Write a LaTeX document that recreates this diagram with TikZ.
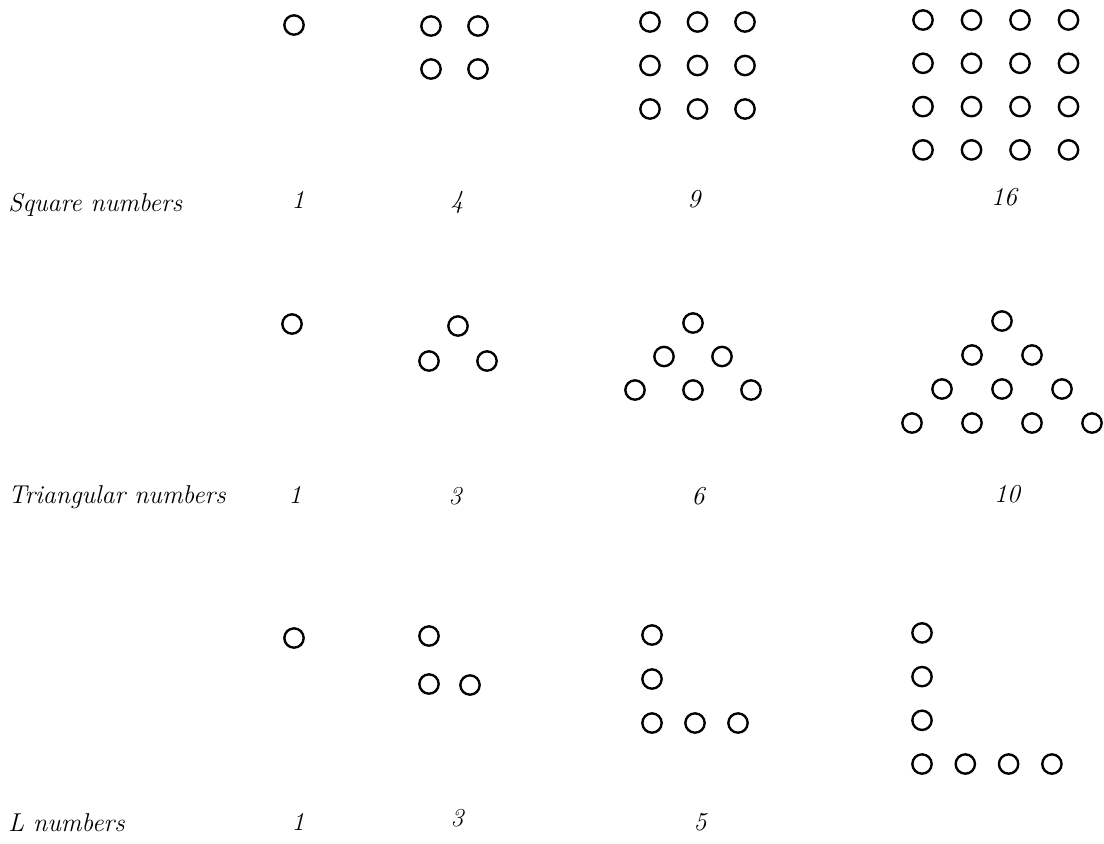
\documentclass[tikz,border=0pt]{standalone}
\usepackage{tikz}

\begin{document}
\begin{tikzpicture}[x=0.02cm, y=-0.02cm,
    dot/.style={draw, circle, line width=1.35pt, minimum size=11pt, inner sep=0pt},
    rowname/.style={anchor=base west, inner sep=0pt, font=\fontsize{14.7}{17}\selectfont\itshape},
    count/.style={anchor=base, inner sep=0pt, font=\fontsize{14.7}{17}\selectfont\itshape}]
  \useasboundingbox (0,0) rectangle (1104,843);

  \node[dot] (sq1) at (294,25) {};
  \foreach \i in {0,1} \foreach \j in {0,1}
    \node[dot] (sq4-\i-\j) at ({431+47*\i},{26+43*\j}) {};
  \foreach \i in {0,1,2} \foreach \j in {0,1,2}
    \node[dot] (sq9-\i-\j) at ({650+47.5*\i},{22+43.5*\j}) {};
  \foreach \i in {0,...,3} \foreach \j in {0,...,3}
    \node[dot] (sq16-\i-\j) at ({923+48.5*\i},{20+43.3*\j}) {};
  \node[rowname] (sqname) at (8,211) {Square numbers};
  \node[count] (sqn1) at (298,208) {1};
  \node[count] (sqn4) at (457,208) {4};
  \node[count] (sqn9) at (694,207) {9};
  \node[count] (sqn16) at (1004,205) {16};

  \node[dot] (tr1) at (292,324) {};
  \foreach \r in {0,1} \foreach \k in {0,...,\r}
    \node[dot] (tr3-\r-\k) at ({458+58*(\k-\r/2)},{326+35*\r}) {};
  \foreach \r in {0,1,2} \foreach \k in {0,...,\r}
    \node[dot] (tr6-\r-\k) at ({693+58*(\k-\r/2)},{323+33.5*\r}) {};
  \foreach \r in {0,...,3} \foreach \k in {0,...,\r}
    \node[dot] (tr10-\r-\k) at ({1002+60*(\k-\r/2)},{321+34*\r}) {};
  \node[rowname] (trname) at (8,503) {Triangular numbers};
  \node[count] (trn1) at (295,503) {1};
  \node[count] (trn3) at (455,504) {3};
  \node[count] (trn6) at (698,504) {6};
  \node[count] (trn10) at (1007,502) {10};

  \node[dot] (l1) at (294,638) {};
  \node[dot] (l3-c) at (429,684) {};
  \node[dot] (l3-v1) at (429,636) {};
  \node[dot] (l3-h1) at (470,685) {};
  \node[dot] (l5-c) at (652,723) {};
  \foreach \j in {1,2}
    \node[dot] (l5-v\j) at (652,{723-44*\j}) {};
  \foreach \i in {1,2}
    \node[dot] (l5-h\i) at ({652+43*\i},723) {};
  \node[dot] (l7-c) at (922,764) {};
  \foreach \j in {1,2,3}
    \node[dot] (l7-v\j) at (922,{764-43.7*\j}) {};
  \foreach \i in {1,2,3}
    \node[dot] (l7-h\i) at ({922+43.3*\i},764) {};
  \node[rowname] (lname) at (8,831) {L numbers};
  \node[count] (ln1) at (298,830) {1};
  \node[count] (ln3) at (457,826) {3};
  \node[count] (ln5) at (700,830) {5};
\end{tikzpicture}
\end{document}
